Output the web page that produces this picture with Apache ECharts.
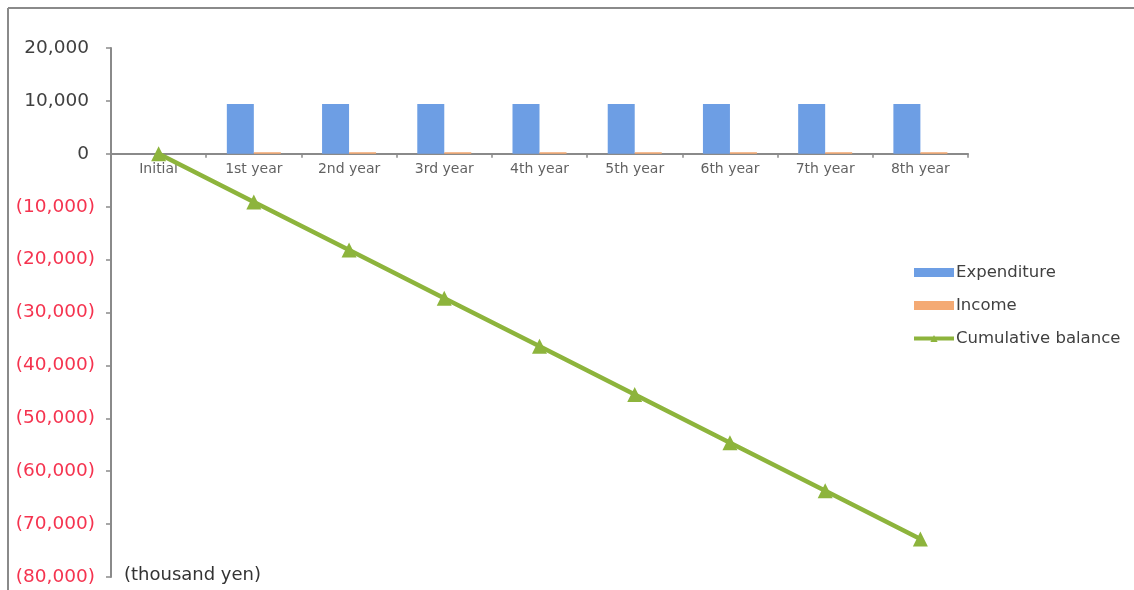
<!DOCTYPE html>
<html>
<head>
<meta charset="utf-8">
<script src="https://cdn.jsdelivr.net/npm/echarts@6/dist/echarts.min.js"></script>
<style>
html,body{margin:0;padding:0;background:#fff;}
#c{width:1134px;height:590px;}
</style>
</head>
<body>
<div id="c"></div>
<script>
const categories = ['Initial','1st year','2nd year','3rd year','4th year','5th year','6th year','7th year','8th year'];
const expenditure = [null, 9400, 9400, 9400, 9400, 9400, 9400, 9400, 9400];
const income = [null, 300, 300, 300, 300, 300, 300, 300, 300];
const cumulative = [0, -9100, -18200, -27300, -36400, -45500, -54600, -63700, -72800];
const yMin = -80000, yMax = 20000, yStep = 10000;
const unitLabel = '(thousand yen)';

const FONT = '"DejaVu Sans", sans-serif';
const chart = echarts.init(document.getElementById('c'), null, {renderer:'canvas'});

function fmt(v){
  const s = Math.abs(v).toLocaleString('en-US');
  return v < 0 ? '{neg|(' + s + ')}' : '{pos|' + s + '}';
}

chart.setOption({
  animation: false,
  backgroundColor: '#ffffff',
  textStyle: {fontFamily: FONT},
  grid: {left: 111, right: 166, top: 48, bottom: 13, containLabel: false, outerBoundsMode: 'none'},
  graphic: [
    {type:'line', shape:{x1:8, y1:8, x2:1140, y2:8}, style:{stroke:'#8a8a8a', lineWidth:2}},
    {type:'line', shape:{x1:8, y1:8, x2:8, y2:600}, style:{stroke:'#8a8a8a', lineWidth:2}},
    {type:'text', left:124, top:566, style:{text: unitLabel, font:'18px ' + FONT, fill:'#333333'}}
  ],
  legend: {
    orient: 'vertical',
    left: 912, top: 264, padding: 0,
    itemWidth: 40, itemHeight: 9, itemGap: 16,
    textStyle: {fontSize: 16.5, color: '#404040', fontFamily: FONT, padding:[0,0,0,-3]},
    data: [
      {name:'Expenditure', icon:'rect'},
      {name:'Income', icon:'rect'},
      {name:'Cumulative balance', lineStyle:{width:4}}
    ]
  },
  xAxis: {
    type: 'category',
    data: categories,
    axisLine: {onZero: true, lineStyle: {color: '#8a8a8a', width: 2}},
    axisTick: {show: true, length: 4, lineStyle: {color:'#8a8a8a', width: 1.5}},
    axisLabel: {show: false},
    splitLine: {show: false}
  },
  yAxis: {
    type: 'value',
    min: yMin, max: yMax, interval: yStep,
    axisLine: {show: true, lineStyle: {color: '#8a8a8a', width: 2}},
    axisTick: {show: true, length: 5, lineStyle: {color:'#8a8a8a', width: 1.5}},
    splitLine: {show: false},
    axisLabel: {
      margin: 22,
      formatter: fmt,
      rich: {
        neg: {color: '#f5334f', fontSize: 18.5, fontFamily: FONT, padding:[0,-6,0,0]},
        pos: {color: '#404040', fontSize: 18.5, fontFamily: FONT}
      }
    }
  },
  series: [
    {name:'Expenditure', type:'bar', data: expenditure, barWidth: 27, barGap: '0%',
     itemStyle:{color:'#6d9ee4'}},
    {name:'Income', type:'bar', data: income, barWidth: 27,
     itemStyle:{color:'#f4aa74'}},
    {name:'Cumulative balance', type:'line', data: cumulative,
     symbol:'triangle', symbolSize: 15,
     lineStyle:{color:'#8db43c', width: 4.5},
     itemStyle:{color:'#8db43c'}, z: 5},
    {name:'catLabels', type:'scatter', data: categories.map(function(c){ return [c, 0]; }),
     symbolSize: 0, silent: true, z: 1,
     label: {show: true, position: 'bottom', distance: 9,
       formatter: function(p){ return p.value[0]; },
       color: '#3a3a3a', fontSize: 14, fontFamily: FONT}}
  ]
});
</script>
</body>
</html>
